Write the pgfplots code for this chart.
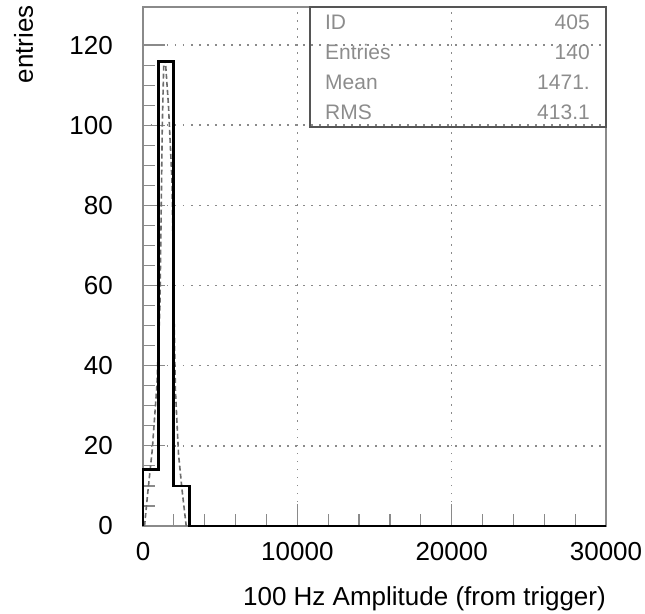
\documentclass[border=0pt]{standalone}
\usepackage{pgfplots}
\pgfplotsset{compat=1.18}
\usepackage{fontspec}
\setmainfont{Liberation Sans}

\definecolor{framegray}{HTML}{8A8A8A}
\definecolor{statgray}{HTML}{8C8C8C}
\definecolor{boxgray}{HTML}{555555}

% histogram: 1000-wide bins, left edges
\pgfplotstableread{
x   n
0   0
0   14
1000 116
2000 10
3000 0
30000 0
}\histdata

\begin{document}
\begin{tikzpicture}
\begin{axis}[
    scale only axis,
    width=463pt, height=519pt,
    xmin=0, xmax=30000, ymin=0, ymax=129.5,
    xtick={0,10000,20000,30000},
    ytick={0,20,...,120},
    minor x tick num=4,
    minor y tick num=3,
    scaled x ticks=false,
    xticklabel style={/pgf/number format/set thousands separator={}},
    /pgf/number format/assume math mode=true,
    tick align=inside,
    xtick pos=left, ytick pos=left,
    major tick length=22pt, minor tick length=12pt,
    tick style={framegray, line width=1.2pt},
    axis line style={framegray, line width=1.5pt},
    grid=major,
    major grid style={framegray, line width=1.5pt, dash pattern=on 1.5pt off 6.5pt},
    tick label style={font=\fontsize{26}{26}\selectfont, black, inner sep=0pt},
    xticklabel style={anchor=north, yshift=-16pt},
    yticklabel style={anchor=east, xshift=-30pt},
    xlabel={100 Hz Amplitude (from trigger)},
    ylabel={entries},
    label style={font=\fontsize{26}{26}\selectfont},
    xlabel style={at={(axis description cs:1,-0.154)}, anchor=base east, inner sep=0pt},
    ylabel style={at={(axis description cs:-0.2376,1.004)}, anchor=base east, inner sep=0pt},
    clip=false,
]
\coordinate (O) at (rel axis cs:0,0);

% fitted curve (dashed)
\addplot[gray!85!black, line width=1.6pt, dash pattern=on 5pt off 3pt] coordinates {
    (100,0) (300,8) (600,19) (900,35) (1100,55) (1250,100) (1350,116)
    (1450,116) (1650,105) (1880,86) (2000,55) (2100,34) (2300,18)
    (2530,9) (2800,0)
};

% histogram
\addplot[const plot mark left, black, line width=2.8pt] table[x=x, y=n] {\histdata};

% statistics box
\draw[boxgray, line width=1.5pt] (rel axis cs:0.3607,0.7688) rectangle (rel axis cs:1,1);
\begin{scope}[every node/.style={font=\fontsize{21}{21}\selectfont, text=statgray, inner sep=0pt}]
\node[anchor=west] at (rel axis cs:0.393,0.971) {ID};
\node[anchor=west] at (rel axis cs:0.393,0.913) {Entries};
\node[anchor=west] at (rel axis cs:0.393,0.855) {Mean};
\node[anchor=west] at (rel axis cs:0.393,0.798) {RMS};
\node[anchor=east] at (rel axis cs:0.9654,0.971) {405};
\node[anchor=east] at (rel axis cs:0.9654,0.913) {140};
\node[anchor=east] at (rel axis cs:0.9654,0.855) {1471.};
\node[anchor=east] at (rel axis cs:0.9654,0.798) {413.1};
\end{scope}
\end{axis}
\pgfresetboundingbox
\path (O) ++(-143pt,-87pt) rectangle ++(645pt,613pt);
\end{tikzpicture}
\end{document}
